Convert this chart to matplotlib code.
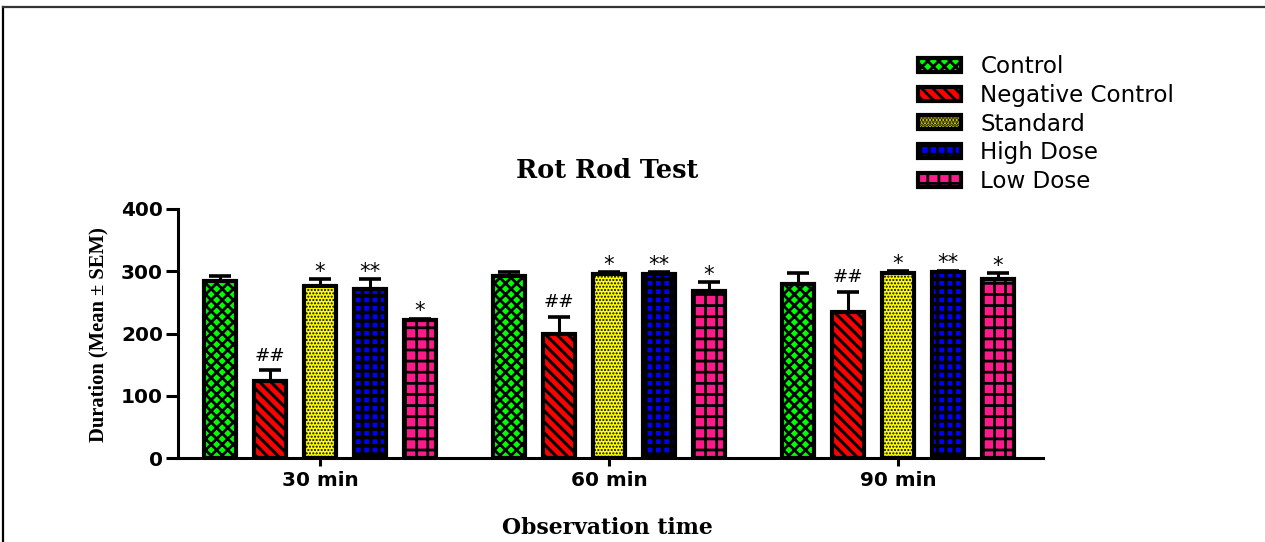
import matplotlib
matplotlib.use("Agg")
import matplotlib.pyplot as plt
import numpy as np
from matplotlib.lines import Line2D

# ---- data ----
time_points = ["30 min", "60 min", "90 min"]
groups = ["Control", "Negative Control", "Standard", "High Dose", "Low Dose"]
control = [285, 292, 280]
control_err = [8, 6, 17]
negative = [124, 199, 234]
negative_err = [17, 28, 33]
standard = [277, 296, 297]
standard_err = [10, 3, 3]
high_dose = [272, 295, 299]
high_dose_err = [15, 3, 2]
low_dose = [221, 268, 287]
low_dose_err = [3, 15, 10]
signif = ["", "##", "*", "**", "*"]
yticks = [0, 100, 200, 300, 400]

means = [control, negative, standard, high_dose, low_dose]
errs = [control_err, negative_err, standard_err, high_dose_err, low_dose_err]

colors = ["#00FF00", "#FF0000", "#FFFF00", "#0000FF", "#FF1A8C"]
hatches = ["xxxxxx", "\\" * 6, "." * 10, "++++", "+++"]
hatch_lw = [1.0, 1.1, 0.5, 1.3, 1.0]

plt.rcParams["hatch.color"] = "black"
plt.rcParams["hatch.linewidth"] = 1.0

fig = plt.figure(figsize=(6.325, 2.71), dpi=200)
W, H = 1265, 542
ax = fig.add_axes([178 / W, 1 - 458 / H, (1043 - 178) / W, (458 - 209) / H])

x = np.arange(len(time_points))
step = 0.173
width = 0.108
bars_for_legend = []
for i, (m, e) in enumerate(zip(means, errs)):
    pos = x + (i - 2) * step
    b = ax.bar(pos, m, width, color=colors[i], edgecolor="black", linewidth=1.5,
               hatch=hatches[i], label=groups[i], zorder=2)
    for p in b.patches:
        if hasattr(p, "set_hatch_linewidth"):
            p.set_hatch_linewidth(hatch_lw[i])
    bars_for_legend.append(b)
    ax.errorbar(pos, m, yerr=[np.zeros(len(e)), e], fmt="none", ecolor="black",
                elinewidth=1.1, capsize=3.8, capthick=1.3, zorder=3)
    if signif[i]:
        for xp, mv, ev in zip(pos, m, e):
            if signif[i] == "##":
                ax.annotate(signif[i], (xp, mv + ev), xytext=(0, 2.0),
                            textcoords="offset points", ha="center", va="bottom",
                            fontsize=6.6, family="DejaVu Sans", zorder=4)
            else:
                ax.annotate(signif[i], (xp, mv + ev), xytext=(0, -1.0),
                            textcoords="offset points", ha="center", va="bottom",
                            fontsize=7.6, family="DejaVu Sans", zorder=4)

ax.set_xlim(-0.491, 2.502)
ax.set_ylim(0, 400)
ax.set_yticks(yticks)
ax.set_xticks(x)
ax.set_xticklabels(time_points)
for lab in ax.get_xticklabels() + ax.get_yticklabels():
    lab.set_fontweight("bold")
    lab.set_fontsize(7.2)
    lab.set_family("DejaVu Sans")
ax.tick_params(axis="y", direction="out", length=4.4, width=1.1, pad=1.0)
ax.tick_params(axis="x", direction="out", length=3.0, width=1.1, pad=1.5)
for s in ["top", "right"]:
    ax.spines[s].set_visible(False)
for s in ["left", "bottom"]:
    ax.spines[s].set_linewidth(1.1)

ax.set_ylabel("Duration (Mean ± SEM)", fontsize=7.4, fontweight="bold",
              family="Liberation Serif")
ax.yaxis.set_label_coords(-0.080, 0.494)
ax.set_xlabel("Observation time", fontsize=7.9, fontweight="bold",
              family="DejaVu Serif")
ax.xaxis.set_label_coords(0.496, -0.235)
ax.text(0.496, (458 - 171) / 249, "Rot Rod Test", transform=ax.transAxes,
        ha="center", va="center", fontsize=9.2, fontweight="bold",
        family="DejaVu Serif")

leg = fig.legend(handles=bars_for_legend, labels=groups, loc="upper left",
                 bbox_to_anchor=(918 / W, 1 - 55 / H), frameon=False,
                 borderpad=0, borderaxespad=0, handlelength=1.85, handleheight=0.55,
                 labelspacing=0.25, handletextpad=0.85,
                 prop={"family": "DejaVu Sans", "size": 8.3})

# figure frame (top and left edges visible)
fig.add_artist(Line2D([3 / W, 3 / W], [0, 1 - 7 / H], transform=fig.transFigure,
                      color="black", linewidth=0.8))
fig.add_artist(Line2D([3 / W, 1], [1 - 7 / H, 1 - 7 / H], transform=fig.transFigure,
                      color="#333333", linewidth=0.8))

fig.savefig("out.png", dpi=200)
